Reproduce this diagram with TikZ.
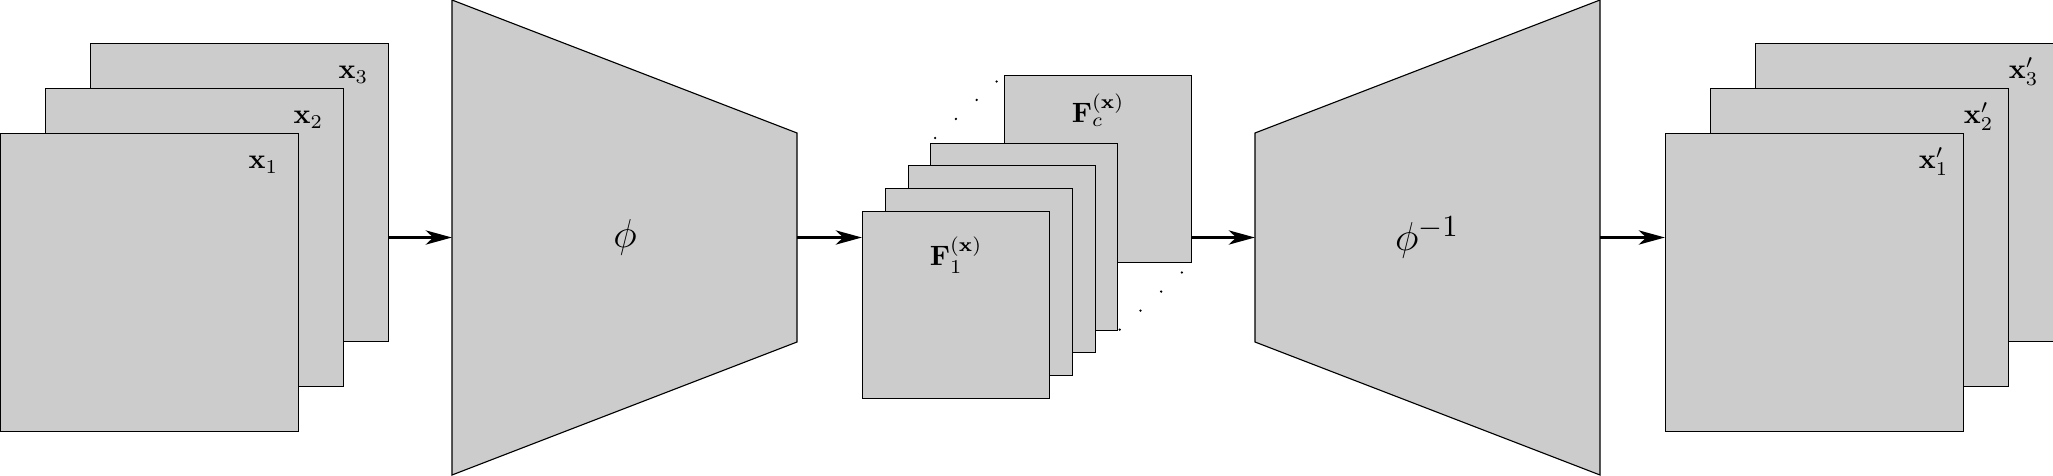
\documentclass[tikz,border=0pt]{standalone}
\usepackage{amsmath}
\usepackage{amssymb}
\usetikzlibrary{arrows.meta,calc}

\begin{document}
\begin{tikzpicture}[x=0.357pt,y=0.357pt]
\tikzstyle{every path}=[thin]

\tikzstyle{img}=[draw,fill=gray!40,minimum size=106.4pt,inner sep=0pt,anchor=south west]
\tikzstyle{fmap}=[draw,fill=gray!40,minimum size=66.8pt,inner sep=0pt,anchor=south west]
\tikzstyle{flow}=[-{Stealth[length=9.3pt,width=5pt,inset=2.6pt]},line width=1.4pt]
\tikzstyle{lbl}=[anchor=base west,inner sep=0pt]
\tikzstyle{big}=[font=\fontsize{15.7}{18}\selectfont]

\useasboundingbox (0,0) rectangle (2053,475);

% input images
\node[img] (x3) at (90,133) {};
\node[img] (x2) at (45,88) {};
\node[img] (x1) at (0,43) {};
\node[lbl] at ($(x3.north east)+(-51,-36)$) {$\mathbf{x}_3$};
\node[lbl] at ($(x2.north east)+(-51,-36)$) {$\mathbf{x}_2$};
\node[lbl] at ($(x1.north east)+(-51,-36)$) {$\mathbf{x}_1$};

% encoder
\draw[fill=gray!40] (452,0) -- (452,475) -- (797,342) -- (797,133) -- cycle;
\node[big] (enc) at (625,238) {$\phi$};
\coordinate (encin) at (452,237.5);
\coordinate (encout) at (797,237.5);

% feature maps
\node[fmap] (fc) at (1004,212) {};
\node[fmap] (f4) at (930,144) {};
\node[fmap] (f3) at (908,122) {};
\node[fmap] (f2) at (885,99) {};
\node[fmap] (f1) at (862,76) {};
\node[anchor=base] at ($(fc.north)+(0,-48)$) {$\mathbf{F}_c^{(\mathbf{x})}$};
\node[anchor=base] at ($(f1.north)+(0,-55)$) {$\mathbf{F}_1^{(\mathbf{x})}$};
\foreach \t in {0.07,0.35,0.63,0.9}
    \fill ($(f4.north west)!\t!(fc.north west)$) circle (1.3);
\foreach \t in {0.02,0.3,0.58,0.86}
    \fill ($(f4.south east)!\t!(fc.south east)$) circle (1.3);

% decoder
\draw[fill=gray!40] (1255,133) -- (1255,342) -- (1600,475) -- (1600,0) -- cycle;
\node[big] (dec) at (1427,237.5) {$\phi^{-1}$};
\coordinate (decin) at (1255,237.5);
\coordinate (decout) at (1600,237.5);

% output images
\node[img] (y3) at (1755,133) {};
\node[img] (y2) at (1710,88) {};
\node[img] (y1) at (1665,43) {};
\node[lbl] at ($(y3.north east)+(-46,-36)$) {$\mathbf{x}'_3$};
\node[lbl] at ($(y2.north east)+(-46,-36)$) {$\mathbf{x}'_2$};
\node[lbl] at ($(y1.north east)+(-46,-36)$) {$\mathbf{x}'_1$};

\draw[flow] (x3.east |- encin) -- (encin);
\draw[flow] (encout) -- (f1.west |- encout);
\draw[flow] (fc.east |- decin) -- (decin);
\draw[flow] (decout) -- (y1.west |- decout);
\end{tikzpicture}
\end{document}
